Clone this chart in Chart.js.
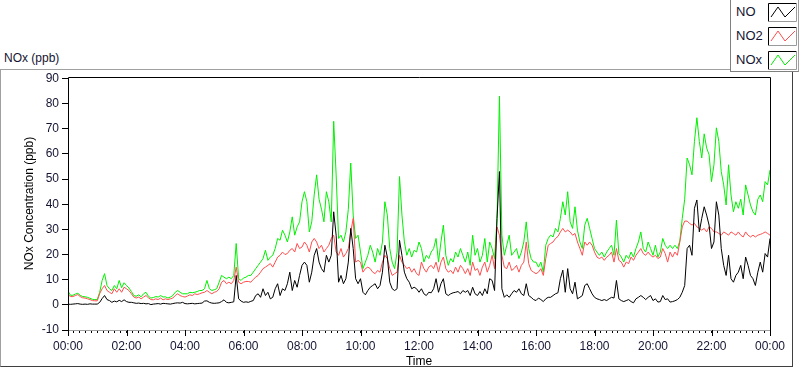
<!DOCTYPE html>
<html>
<head>
<meta charset="utf-8">
<script src="https://cdn.jsdelivr.net/npm/chart.js@4"></script>
<style>
  body { margin: 0; background: #fff; }
  #wrap { position: relative; width: 800px; height: 369px; font-family: "Liberation Sans", Arial, sans-serif; color: #141432; }
  #frame { position: absolute; left: 0; top: 69px; width: 791px; height: 296px; border-top: 1px solid #a0a0a0; border-left: 1px solid #a0a0a0; border-right: 1px solid #404040; border-bottom: 1px solid #404040; }
  #graphName { position: absolute; left: 4px; top: 51px; font-size: 12px; }
  #chart { position: absolute; left: 0; top: 0; }
  #legend { position: absolute; left: 730px; top: 0; width: 67px; height: 71px; background: #fff; border-left: 1px solid #808080; border-bottom: 1px solid #808080; border-right: 1px solid #a0a0a0; }
  .item { position: absolute; left: 5px; font-size: 13px; }
  .item svg { position: absolute; left: 32px; top: 0; }
</style>
</head>
<body>
<div id="wrap">
  <div id="frame"></div>
  <div id="graphName">NOx (ppb)</div>
  <canvas id="chart" width="800" height="369"></canvas>
  <div id="legend"></div>
</div>
<script>
// one reading every 5 minutes, 00:00 to 24:00
var stepMinutes = 5;

var no = [
  0.3, 0.2, 0.3, 0.4, 0.5, 0.3, 0.2, 0.3, 0.2, 0.4, 0.3, 0.3,
  0.3, 1.0, 2.5, 3.7, 2.1, 1.7, 1.0, 1.5, 1.2, 1.8, 1.3, 2.0,
  1.3, 1.0, 1.0, 0.8, 0.6, 0.7, 0.5, 0.6, 0.4, 0.5, 0.1, 0.3,
  0.4, 0.5, 0.3, 0.6, 0.5, 0.4, 0.3, 0.5, 0.7, 0.8, 0.7, 1.0,
  0.5, 0.4, 0.5, 0.6, 0.4, 0.5, 0.6, 0.7, 1.5, 1.6, 1.0, 0.7,
  0.6, 0.7, 0.8, 1.3, 2.0, 1.0, 0.8, 1.0, 1.2, 11.7, 2.4, 1.5,
  1.0, 1.2, 1.0, 1.4, 1.7, 3.7, 4.4, 3.0, 6.4, 3.7, 5.0, 2.4,
  3.0, 6.4, 8.4, 3.7, 6.4, 5.7, 8.4, 13.0, 5.7, 9.7, 7.0, 11.7,
  15.7, 17.0, 15.7, 9.0, 13.0, 19.7, 22.4, 17.0, 14.4, 13.0, 19.7, 17.0,
  19.7, 37.0, 27.7, 9.0, 11.7, 8.4, 10.4, 17.0, 30.4, 22.4, 10.4, 8.4,
  10.4, 5.0, 4.0, 5.7, 7.0, 7.7, 8.4, 6.4, 7.7, 13.0, 23.7, 19.0,
  9.0, 6.4, 5.7, 6.4, 25.7, 19.7, 13.0, 10.4, 9.0, 6.4, 7.0, 6.4,
  5.0, 6.4, 4.4, 3.7, 5.0, 4.8, 6.4, 10.4, 5.0, 8.4, 10.4, 4.4,
  3.7, 4.4, 4.8, 5.0, 5.3, 4.4, 5.7, 5.0, 5.7, 3.7, 7.0, 4.4,
  3.7, 5.3, 3.7, 6.4, 4.4, 10.4, 9.7, 5.7, 34.4, 53.0, 6.4, 3.0,
  4.0, 3.0, 4.4, 5.7, 5.0, 6.4, 4.4, 3.7, 8.4, 3.7, 3.0, 2.1,
  1.7, 2.7, 2.1, 1.3, 2.4, 3.0, 3.0, 3.7, 4.4, 4.8, 10.4, 13.8,
  5.0, 14.4, 6.4, 4.4, 9.0, 2.4, 3.0, 3.7, 7.7, 8.4, 6.4, 4.4,
  3.0, 2.4, 2.1, 1.7, 2.1, 1.7, 2.4, 3.0, 2.7, 9.7, 2.4, 1.7,
  1.3, 1.7, 2.1, 1.3, 0.8, 2.4, 3.0, 3.7, 3.0, 2.1, 3.0, 3.7,
  1.7, 2.4, 1.1, 1.3, 3.7, 2.1, 2.4, 1.1, 1.3, 1.6, 2.1, 3.0,
  5.0, 7.7, 22.4, 23.7, 19.7, 38.4, 41.7, 29.0, 34.4, 39.0, 35.7, 31.7,
  22.4, 25.0, 41.0, 35.7, 22.4, 15.7, 11.7, 19.7, 10.4, 9.0, 11.7, 13.0,
  15.7, 10.4, 19.0, 15.7, 11.7, 10.4, 7.7, 13.0, 17.0, 13.0, 20.4, 19.0, 26.4
];

var no2 = [
  4.1, 3.3, 3.3, 3.7, 4.1, 3.3, 2.8, 2.7, 2.4, 2.1, 1.7, 1.6,
  1.6, 4.5, 6.4, 7.7, 5.7, 5.0, 4.4, 6.4, 5.0, 6.4, 5.0, 7.0,
  6.4, 5.7, 4.4, 3.1, 2.7, 3.1, 2.4, 3.1, 3.7, 2.8, 2.1, 2.0,
  2.4, 2.1, 2.7, 2.0, 2.4, 2.1, 2.4, 2.7, 3.7, 4.4, 3.7, 3.3,
  3.1, 3.5, 4.0, 3.7, 4.4, 4.1, 4.4, 4.8, 5.0, 5.7, 5.0, 4.4,
  5.0, 5.3, 6.4, 9.0, 9.7, 8.4, 9.0, 8.4, 9.7, 15.0, 9.0, 8.4,
  9.0, 9.3, 9.3, 9.0, 10.1, 11.0, 11.7, 13.0, 14.4, 15.0, 15.7, 16.4,
  15.0, 17.0, 19.0, 19.7, 21.0, 20.0, 20.4, 21.7, 22.4, 21.0, 24.4, 22.4,
  23.0, 25.0, 23.7, 21.0, 25.0, 26.4, 25.0, 22.4, 23.7, 21.0, 22.4, 23.7,
  26.4, 27.7, 21.0, 19.7, 22.4, 19.0, 20.4, 22.4, 29.0, 34.4, 17.0, 17.7,
  17.0, 13.0, 14.4, 15.0, 14.4, 13.0, 12.4, 13.7, 13.0, 17.0, 19.7, 18.4,
  14.4, 11.7, 12.4, 13.0, 19.7, 17.0, 15.7, 14.4, 15.0, 13.0, 14.4, 12.4,
  11.7, 17.0, 14.4, 13.0, 15.0, 15.7, 14.4, 17.0, 13.0, 17.0, 19.0, 14.4,
  13.0, 13.7, 12.4, 15.0, 13.0, 15.7, 14.4, 12.4, 14.4, 11.7, 17.0, 13.7,
  14.4, 11.7, 15.0, 17.0, 13.0, 15.7, 19.7, 14.4, 31.0, 27.7, 19.7, 15.0,
  14.4, 17.0, 13.7, 14.4, 15.7, 13.0, 15.7, 17.0, 25.0, 16.4, 13.7, 13.0,
  12.4, 13.0, 14.4, 11.7, 18.4, 23.7, 24.4, 25.0, 26.4, 27.2, 29.0, 30.4,
  29.0, 29.7, 29.0, 27.7, 28.4, 25.0, 22.4, 19.7, 25.0, 23.7, 25.0, 23.7,
  21.0, 19.0, 18.4, 19.0, 17.7, 19.0, 19.7, 21.0, 17.0, 22.4, 17.7, 17.0,
  15.0, 17.0, 16.4, 19.0, 17.7, 19.7, 21.0, 22.4, 20.4, 19.7, 21.0, 19.7,
  19.0, 19.7, 18.4, 19.0, 22.4, 20.4, 17.0, 21.0, 19.0, 21.0, 19.7, 25.0,
  31.0, 33.3, 33.3, 32.4, 31.7, 32.4, 31.0, 30.4, 29.7, 30.4, 29.0, 31.0,
  30.4, 29.0, 29.0, 28.4, 27.7, 29.0, 28.4, 27.7, 29.0, 28.4, 27.7, 29.0,
  27.7, 27.0, 29.0, 27.7, 27.0, 27.7, 27.0, 27.7, 28.0, 28.4, 29.0, 28.4, 27.7
];

var nox = [
  5.5, 3.8, 3.8, 4.3, 4.6, 3.8, 3.3, 3.2, 3.0, 2.6, 2.2, 2.1,
  2.1, 5.0, 9.7, 12.4, 7.7, 6.4, 5.7, 7.7, 6.4, 9.7, 6.8, 8.8,
  7.7, 6.7, 5.3, 3.7, 3.4, 4.0, 3.2, 4.4, 5.0, 3.4, 2.7, 2.9,
  3.3, 3.1, 3.7, 3.1, 3.2, 2.7, 3.1, 3.7, 5.0, 5.7, 5.0, 4.4,
  4.4, 4.4, 5.0, 4.8, 5.0, 5.3, 5.7, 5.7, 6.4, 9.7, 6.4, 5.7,
  6.0, 6.4, 9.0, 11.7, 11.0, 10.4, 11.0, 10.4, 11.7, 24.4, 10.4, 9.7,
  10.7, 11.0, 11.7, 11.7, 13.0, 14.4, 15.7, 17.0, 18.4, 21.7, 17.7, 19.0,
  19.7, 22.4, 26.4, 25.7, 29.7, 27.7, 25.0, 29.0, 35.0, 27.7, 31.0, 33.0,
  41.0, 45.0, 41.0, 29.0, 33.0, 43.7, 51.7, 42.0, 38.0, 33.0, 45.0, 41.0,
  33.0, 73.0, 51.7, 26.4, 27.7, 25.0, 29.0, 38.0, 56.4, 35.7, 26.4, 27.7,
  21.0, 14.4, 17.0, 19.7, 23.7, 21.0, 17.0, 22.4, 19.7, 25.0, 41.0, 35.7,
  22.4, 17.0, 14.4, 21.0, 51.0, 35.7, 25.0, 19.7, 22.4, 19.0, 21.7, 21.0,
  25.0, 22.4, 17.0, 19.7, 18.4, 21.0, 22.4, 26.4, 17.0, 25.0, 31.7, 19.7,
  15.7, 18.4, 17.0, 21.0, 19.0, 22.4, 19.7, 17.0, 21.0, 15.7, 27.7, 19.7,
  22.4, 17.0, 19.7, 26.4, 17.0, 25.0, 22.4, 18.4, 34.4, 83.0, 27.7, 19.7,
  23.7, 27.7, 19.7, 21.0, 22.4, 18.4, 21.0, 25.0, 33.0, 22.4, 18.4, 17.0,
  17.0, 15.0, 17.0, 13.0, 23.7, 26.4, 27.7, 27.0, 30.4, 29.0, 34.4, 41.0,
  35.7, 45.0, 33.0, 30.4, 39.0, 29.7, 25.0, 22.4, 31.7, 34.4, 30.4, 26.4,
  22.4, 21.0, 19.7, 21.0, 19.0, 21.0, 22.4, 23.7, 19.7, 33.7, 20.4, 19.0,
  17.0, 19.7, 18.4, 21.0, 19.0, 22.4, 25.0, 29.0, 22.4, 21.0, 25.0, 22.4,
  19.7, 23.7, 19.0, 21.0, 26.4, 23.7, 22.4, 23.7, 22.4, 23.7, 22.4, 25.4,
  34.4, 42.0, 58.4, 55.7, 51.7, 65.0, 74.4, 65.0, 58.4, 68.0, 62.4, 59.7,
  49.0, 55.7, 70.4, 65.0, 53.0, 47.7, 39.7, 55.7, 43.7, 37.0, 41.0, 38.4,
  42.0, 35.7, 47.7, 43.7, 39.7, 37.0, 35.7, 42.0, 43.7, 41.0, 49.0, 47.7, 53.6
];

var xTickLabels = ["00:00", "02:00", "04:00", "06:00", "08:00", "10:00", "12:00",
  "14:00", "16:00", "18:00", "20:00", "22:00", "00:00"];
var yTicks = [-10, 0, 10, 20, 30, 40, 50, 60, 70, 80, 90];

var seriesNames = ["NO", "NO2", "NOx"];
var seriesColors = ["#000000", "#ff4d4d", "#00f000"];

function toPoints(values) {
  return values.map(function (v, i) {
    return { x: i * stepMinutes, y: v };
  });
}

// legend like the LabVIEW plot legend
var legendEl = document.getElementById("legend");
seriesNames.forEach(function (name, i) {
  var item = document.createElement("div");
  item.className = "item";
  item.style.top = 3 + i * 24 + "px";
  item.style.width = "62px";
  item.style.height = "19px";
  item.innerHTML =
    '<span style="position:absolute;top:1px;left:0">' + name + "</span>" +
    '<svg width="29" height="19">' +
    '<rect x="0" y="0" width="29" height="19" fill="#fff"/>' +
    '<path d="M0.5 18.5 V0.5 H28.5" fill="none" stroke="#000"/>' +
    '<path d="M0.5 18.5 H28.5 V0.5" fill="none" stroke="#9a9a9a"/>' +
    '<polyline points="3,14 10,4 17,14 27,4" fill="none" stroke="' + seriesColors[i] + '" stroke-width="1"/></svg>';
  legendEl.appendChild(item);
});

var plotFrame = {
  id: "plotFrame",
  afterDraw: function (chart) {
    var ctx = chart.ctx;
    var a = chart.chartArea;
    var xs = chart.scales.x;
    ctx.save();
    ctx.strokeStyle = "#000";
    ctx.lineWidth = 1;
    ctx.beginPath();
    ctx.moveTo(a.left + 0.5, a.bottom);
    ctx.lineTo(a.left + 0.5, a.top + 0.5);
    ctx.lineTo(a.right + 0.5, a.top + 0.5);
    ctx.lineTo(a.right + 0.5, a.bottom);
    // longer ticks every two hours
    xTickLabels.forEach(function (lbl, k) {
      var px = Math.round(xs.getPixelForValue(k * 120)) + 0.5;
      ctx.moveTo(px, a.bottom);
      ctx.lineTo(px, a.bottom + 6);
    });
    ctx.stroke();
    ctx.restore();
  },
};

var ctx = document.getElementById("chart").getContext("2d");

new Chart(ctx, {
  type: "line",
  data: {
    datasets: seriesNames.map(function (name, i) {
      return {
        label: name,
        data: toPoints([no, no2, nox][i]),
        borderColor: seriesColors[i],
        backgroundColor: seriesColors[i],
        borderWidth: 1,
        pointRadius: 0,
        tension: 0,
      };
    }),
  },
  options: {
    responsive: false,
    animation: false,
    events: [],
    layout: { padding: { top: 77, right: 30, bottom: 0, left: 0 } },
    plugins: { legend: { display: false }, tooltip: { enabled: false } },
    scales: {
      x: {
        type: "linear",
        min: 0,
        max: 1440,
        afterFit: function (scale) {
          scale.height = 39;
        },
        afterBuildTicks: function (scale) {
          var t = [];
          for (var m = 0; m <= 1440; m += 12) t.push({ value: m });
          scale.ticks = t;
        },
        border: { display: true, color: "#a0a0a0" },
        grid: { drawOnChartArea: false, tickLength: 3, color: "#000" },
        ticks: {
          autoSkip: false,
          maxRotation: 0,
          padding: 6,
          color: "#141432",
          font: { family: "Liberation Sans", size: 12 },
          callback: function (v) {
            return v % 120 === 0 ? xTickLabels[v / 120] : "";
          },
        },
        title: {
          display: true,
          text: "Time",
          color: "#000",
          font: { family: "Liberation Sans", size: 12 },
          padding: { top: 0, bottom: 0 },
        },
      },
      y: {
        min: -10,
        max: 90.6,
        afterFit: function (scale) {
          scale.width = 68;
        },
        afterBuildTicks: function (scale) {
          scale.ticks = yTicks.map(function (v) {
            return { value: v };
          });
        },
        border: { display: false },
        grid: { drawOnChartArea: false, tickLength: 6, color: "#000" },
        ticks: {
          padding: 3,
          color: "#141432",
          font: { family: "Liberation Sans", size: 12 },
        },
        title: {
          display: true,
          text: "NOx Concentration (ppb)",
          color: "#000",
          font: { family: "Liberation Sans", size: 12 },
          padding: { top: 22, bottom: 0 },
        },
      },
    },
  },
  plugins: [plotFrame],
});
</script>
</body>
</html>
